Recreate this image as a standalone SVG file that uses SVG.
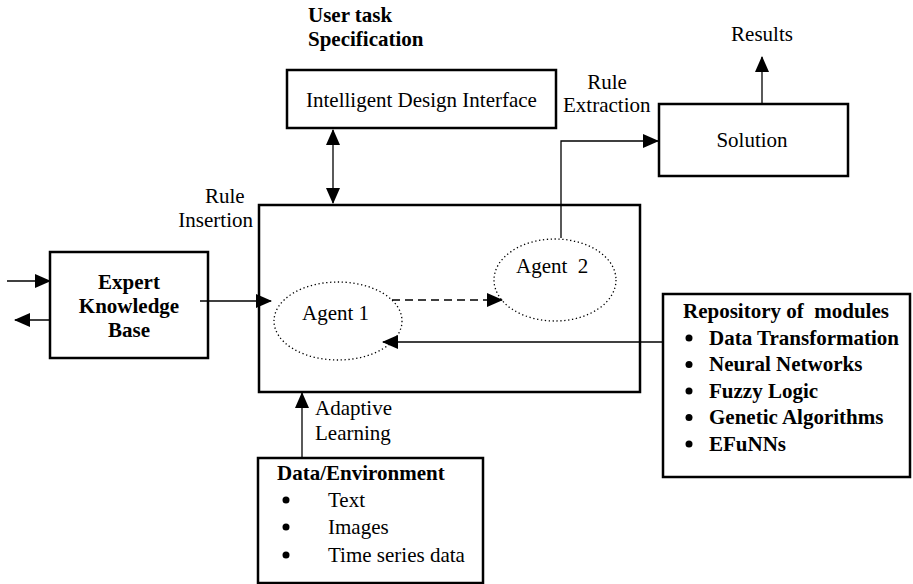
<svg xmlns="http://www.w3.org/2000/svg" width="913" height="584" viewBox="0 0 913 584">
<style>
text{font-family:"Liberation Serif","Times New Roman",serif;font-size:21px;fill:#000}
.b{font-weight:bold}
.box{fill:#fff;stroke:#000;stroke-width:2.5}
.ln{fill:none;stroke:#000;stroke-width:1.3}
.dash{fill:none;stroke:#000;stroke-width:1.3;stroke-dasharray:8,5}
.ell{fill:none;stroke:#000;stroke-width:1.3;stroke-dasharray:1.3,2.6}
</style>
<defs>
<marker id="ah" markerWidth="16" markerHeight="14" refX="15" refY="7" orient="auto" markerUnits="userSpaceOnUse">
<path d="M0,0 L16,7 L0,14 Z" fill="#000"/>
</marker>
<marker id="as" markerWidth="16" markerHeight="14" refX="1" refY="7" orient="auto" markerUnits="userSpaceOnUse">
<path d="M16,0 L0,7 L16,14 Z" fill="#000"/>
</marker>
</defs>
<rect width="913" height="584" fill="#fff"/>

<g id="labels">
<text class="b" x="308" y="22">User task</text>
<text class="b" x="308" y="46">Specification</text>
<text x="607" y="89" text-anchor="middle">Rule</text>
<text x="563" y="112">Extraction</text>
<text x="762" y="41" text-anchor="middle">Results</text>
<text x="205" y="203">Rule</text>
<text x="253" y="227" text-anchor="end">Insertion</text>
<text x="476" y="327">Module</text>
<text x="476" y="350">Generation</text>
<text x="315" y="415">Adaptive</text>
<text x="315" y="440">Learning</text>
</g>

<g id="interface">
<rect class="box" x="287" y="70" width="269" height="58"/>
<text x="421.5" y="107" text-anchor="middle">Intelligent Design Interface</text>
</g>

<g id="solution">
<rect class="box" x="659" y="104" width="189" height="72"/>
<text x="752" y="147" text-anchor="middle">Solution</text>
</g>

<g id="main">
<rect class="box" x="259" y="205" width="381" height="187"/>
</g>

<g id="ekb">
<rect class="box" x="50" y="252" width="158" height="106"/>
<text class="b" x="129" y="289" text-anchor="middle">Expert</text>
<text class="b" x="129" y="313" text-anchor="middle">Knowledge</text>
<text class="b" x="129" y="337" text-anchor="middle">Base</text>
</g>

<g id="agent1">
<ellipse class="ell" cx="338" cy="321" rx="64" ry="39"/>
<text x="302" y="320">Agent 1</text>
</g>

<g id="agent2">
<ellipse class="ell" cx="555" cy="280" rx="61" ry="41"/>
<text x="516" y="273" xml:space="preserve">Agent  2</text>
</g>

<g id="repository">
<rect class="box" x="663" y="294" width="247" height="183"/>
<text class="b" x="683" y="318" xml:space="preserve">Repository of  modules</text>
<circle cx="689" cy="338" r="3.5"/>
<text class="b" x="709" y="344.5">Data Transformation</text>
<circle cx="689" cy="364.5" r="3.5"/>
<text class="b" x="709" y="371">Neural Networks</text>
<circle cx="689" cy="391" r="3.5"/>
<text class="b" x="709" y="397.5">Fuzzy Logic</text>
<circle cx="689" cy="417.5" r="3.5"/>
<text class="b" x="709" y="424">Genetic Algorithms</text>
<circle cx="689" cy="444" r="3.5"/>
<text class="b" x="709" y="450.5">EFuNNs</text>
</g>

<g id="data">
<rect class="box" x="258" y="458" width="225" height="125"/>
<text class="b" x="277" y="480">Data/Environment</text>
<circle cx="286" cy="500" r="3.5"/>
<text x="328" y="507">Text</text>
<circle cx="286" cy="527" r="3.5"/>
<text x="328" y="534">Images</text>
<circle cx="286" cy="555" r="3.5"/>
<text x="328" y="562">Time series data</text>
</g>

<g id="connectors">
<line class="ln" x1="333" y1="130" x2="333" y2="203" marker-start="url(#as)" marker-end="url(#ah)"/>
<polyline class="ln" points="561,238 561,141 658,141" marker-end="url(#ah)"/>
<line class="ln" x1="762" y1="104" x2="762" y2="57" marker-end="url(#ah)"/>
<line class="ln" x1="7" y1="281" x2="50" y2="281" marker-end="url(#ah)"/>
<line class="ln" x1="50" y1="320" x2="15" y2="320" marker-end="url(#ah)"/>
<line class="ln" x1="200" y1="301" x2="271" y2="301" marker-end="url(#ah)"/>
<line class="dash" x1="392" y1="300" x2="502" y2="300" marker-end="url(#ah)"/>
<line class="ln" x1="663" y1="342" x2="383" y2="342" marker-end="url(#ah)"/>
<line class="ln" x1="302" y1="458" x2="302" y2="393" marker-end="url(#ah)"/>
</g>
</svg>
